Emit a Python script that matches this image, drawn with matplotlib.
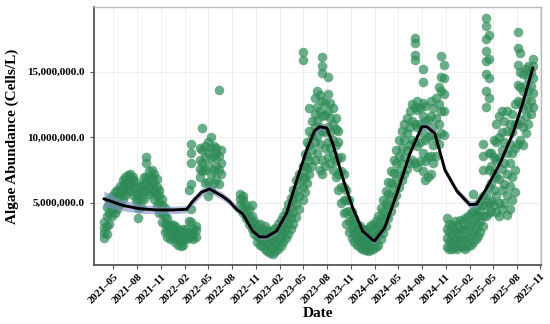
import matplotlib
matplotlib.use("Agg")
import matplotlib.pyplot as plt
import matplotlib.dates as mdates
from matplotlib.ticker import FuncFormatter
import numpy as np
import datetime as dt

# ---------------- data (values in millions of cells per litre) ----------------
obs_dates = [
    "2021-03-25", "2021-04-05", "2021-04-15", "2021-04-25", "2021-05-05", "2021-05-15", "2021-05-25",
    "2021-06-05", "2021-06-15", "2021-06-25", "2021-07-05", "2021-07-15", "2021-07-25",
    "2021-08-05", "2021-08-15", "2021-08-25", "2021-09-05", "2021-09-15", "2021-09-25",
    "2021-10-05", "2021-10-15", "2021-10-25", "2021-11-05", "2021-11-15", "2021-11-25",
    "2021-12-05", "2021-12-15", "2021-12-25", "2022-01-05", "2022-01-15", "2022-01-25",
    "2022-02-05", "2022-02-15", "2022-02-22", "2022-03-05", "2022-03-15",
    "2022-04-01", "2022-04-09", "2022-04-20", "2022-05-01", "2022-05-12", "2022-05-22",
    "2022-06-01", "2022-06-10", "2022-06-18",
    "2022-09-01", "2022-09-12", "2022-09-24", "2022-10-05", "2022-10-15", "2022-10-25",
    "2022-11-05", "2022-11-15", "2022-11-25", "2022-12-05", "2022-12-15", "2022-12-25",
    "2023-01-05", "2023-01-15", "2023-01-25", "2023-02-05", "2023-02-15", "2023-02-25",
    "2023-03-05", "2023-03-15", "2023-03-25", "2023-04-05", "2023-04-15", "2023-05-01",
    "2023-05-08", "2023-05-15", "2023-05-25", "2023-06-05", "2023-06-15", "2023-06-25",
    "2023-07-05", "2023-07-15", "2023-07-25", "2023-08-05", "2023-08-15", "2023-08-25",
    "2023-09-05", "2023-09-15", "2023-09-25", "2023-10-05", "2023-10-15", "2023-10-25",
    "2023-11-05", "2023-11-15", "2023-11-25", "2023-12-05", "2023-12-15", "2023-12-25",
    "2024-01-05", "2024-01-15", "2024-01-25", "2024-02-05", "2024-02-15", "2024-02-25",
    "2024-03-05", "2024-03-15", "2024-03-25", "2024-04-05", "2024-04-15", "2024-04-25",
    "2024-05-05", "2024-05-15", "2024-05-25", "2024-06-05", "2024-06-15", "2024-06-25",
    "2024-07-05", "2024-07-15", "2024-07-25", "2024-08-05", "2024-08-15", "2024-08-25",
    "2024-09-05", "2024-09-15", "2024-09-25", "2024-10-05", "2024-10-15", "2024-10-25",
    "2024-11-05", "2024-11-15", "2024-11-25", "2024-12-05", "2024-12-15", "2024-12-25",
    "2025-01-05", "2025-01-15", "2025-01-25", "2025-02-05", "2025-02-15", "2025-02-25",
    "2025-03-05", "2025-03-15", "2025-03-25", "2025-04-05", "2025-04-15", "2025-04-25",
    "2025-05-05", "2025-05-15", "2025-05-25", "2025-06-05", "2025-06-15", "2025-06-25",
    "2025-07-05", "2025-07-15", "2025-07-25", "2025-08-05", "2025-08-15", "2025-08-25",
    "2025-09-05", "2025-09-15", "2025-09-25", "2025-10-05",
]

obs_values = [
    [2.3, 2.7, 3.1, 3.5], [2.6, 3.2, 4.0, 4.7], [3.4, 4.2, 4.9, 5.3], [4.0, 4.5, 5.1, 5.5],
    [4.2, 4.8, 5.3, 5.8], [4.5, 5.1, 5.6, 6.0], [4.9, 5.5, 5.9, 6.3],
    [5.3, 5.9, 6.3, 6.7], [5.6, 6.2, 6.6, 7.0], [5.9, 6.4, 6.8, 7.1],
    [6.0, 6.5, 6.9, 7.2], [5.6, 6.2, 6.7, 7.0], [5.1, 5.7, 6.2, 6.6],
    [3.8, 4.6, 5.2, 5.7], [4.7, 5.3, 5.9, 6.3], [5.3, 5.9, 6.5, 7.0],
    [5.9, 6.5, 7.0, 8.0, 8.5], [5.7, 6.3, 6.9, 7.4], [5.8, 6.4, 7.0, 7.5],
    [5.3, 6.0, 6.6, 7.2], [4.8, 5.5, 6.2, 6.8], [4.2, 5.0, 5.6, 6.0],
    [3.5, 4.2, 4.8, 5.3], [2.8, 3.4, 4.0, 4.6], [2.4, 2.9, 3.3, 3.8],
    [2.2, 2.7, 3.1, 3.4], [2.3, 2.6, 3.0, 3.3], [2.0, 2.5, 2.9, 3.2],
    [1.8, 2.2, 2.6, 3.0], [1.7, 2.0, 2.4, 2.8], [1.8, 2.2, 2.6, 3.0],
    [2.2, 2.6, 3.0], [2.3, 2.8, 3.6, 6.0], [2.5, 3.5, 4.5, 6.4, 8.0, 8.8, 9.5],
    [2.2, 2.6, 3.0], [2.4, 2.9, 3.2],
    [7.0, 7.6, 8.3, 9.2], [7.4, 8.0, 9.0, 10.7], [6.5, 7.5, 8.5, 9.3],
    [5.5, 6.6, 7.8, 8.8, 9.6], [6.0, 7.2, 8.4, 9.2, 10.0], [6.5, 7.5, 8.5, 9.3],
    [6.8, 7.8, 8.7, 9.2], [6.4, 7.5, 8.6, 13.6], [7.2, 8.0, 9.0],
    [4.8, 5.3, 5.7], [4.2, 4.7, 5.2, 5.5], [3.8, 4.3, 4.8], [3.4, 3.9, 4.5],
    [3.0, 3.5, 4.0, 4.8], [2.6, 3.1, 3.6],
    [2.0, 2.5, 3.0, 3.3], [1.8, 2.3, 2.8, 3.4], [1.7, 2.2, 2.7, 3.0],
    [1.5, 2.0, 2.5, 3.2], [1.3, 1.9, 2.4, 2.9], [1.2, 1.7, 2.3, 2.8],
    [1.1, 1.6, 2.2, 2.9], [1.3, 1.9, 2.5, 3.1], [1.5, 2.1, 2.8, 3.4],
    [1.7, 2.4, 3.0, 3.7], [2.0, 2.7, 3.3, 4.0], [2.3, 3.0, 3.7, 4.4],
    [2.6, 3.4, 4.1, 4.9], [3.0, 3.8, 4.6, 5.4], [3.4, 4.3, 5.2, 6.0],
    [3.9, 4.9, 5.8, 6.7], [4.5, 5.5, 6.4, 7.2], [5.2, 6.2, 7.0, 7.8, 15.9, 16.5],
    [5.8, 6.9, 7.8, 8.7], [6.5, 7.6, 8.6, 9.6], [7.2, 8.3, 9.4, 10.5, 12.2],
    [7.8, 9.0, 10.1, 11.2], [8.3, 9.6, 10.8, 11.8, 13.0], [8.8, 10.1, 11.3, 12.3, 13.5],
    [7.5, 9.5, 10.8, 12.0, 13.2], [7.2, 8.3, 10.5, 11.6, 12.8, 14.9, 15.4, 16.1],
    [7.8, 9.2, 10.4, 11.7, 12.6],
    [8.5, 9.6, 10.8, 12.0, 13.3, 14.6], [8.0, 9.2, 10.4, 11.5, 12.6], [7.5, 8.7, 9.8, 11.0, 12.2],
    [7.0, 8.2, 9.4, 10.6, 11.5], [6.0, 7.2, 8.4, 9.6, 10.5], [5.0, 6.2, 7.4, 8.5],
    [4.2, 5.2, 6.2, 7.2], [3.4, 4.3, 5.2, 6.0], [2.8, 3.6, 4.4, 5.2],
    [2.3, 3.0, 3.7, 4.3], [2.0, 2.6, 3.2, 3.8], [1.8, 2.3, 2.9, 3.4],
    [1.6, 2.1, 2.7, 3.2], [1.5, 2.0, 2.5, 3.0], [1.4, 1.9, 2.4, 2.9],
    [1.3, 1.8, 2.4, 3.0], [1.4, 1.9, 2.5, 3.2], [1.5, 2.1, 2.7, 3.4],
    [1.6, 2.3, 3.0, 3.6], [1.8, 2.6, 3.3, 4.0], [2.2, 3.0, 3.8, 4.6],
    [2.7, 3.5, 4.4, 5.2], [3.2, 4.1, 5.0, 5.9], [3.8, 4.8, 5.7, 6.6],
    [4.4, 5.5, 6.5, 7.4], [5.0, 6.2, 7.3, 8.3], [5.6, 6.8, 8.0, 9.0],
    [6.2, 7.4, 8.6, 9.8], [6.7, 8.0, 9.2, 10.5], [7.2, 8.5, 9.8, 11.0],
    [7.6, 9.0, 10.3, 11.5], [8.0, 9.4, 10.8, 12.0], [8.3, 9.8, 11.2, 12.5],
    [8.0, 9.6, 11.0, 12.3, 15.9, 16.3, 17.2, 17.6], [7.7, 9.3, 10.8, 12.1, 12.8],
    [8.2, 9.6, 11.0, 12.2],
    [7.4, 8.8, 10.3, 11.6, 12.6, 14.2, 15.2], [6.7, 8.2, 9.8, 11.2, 12.4], [7.0, 8.5, 10.0, 11.3],
    [7.2, 8.6, 10.2, 11.6, 12.8], [8.0, 9.4, 10.8, 12.2], [8.6, 10.0, 11.5, 13.0],
    [9.5, 11.0, 12.5, 13.8], [10.3, 12.0, 13.5, 14.6, 16.2], [10.2, 12.0, 13.3, 14.5, 15.5],
    [1.6, 2.3, 3.0, 3.8], [1.5, 2.1, 2.8, 3.4], [1.5, 2.0, 2.6, 3.3],
    [1.6, 2.2, 2.9, 3.6], [1.5, 2.1, 2.7, 3.3], [1.7, 2.3, 3.0, 3.7],
    [1.6, 2.2, 2.9, 3.6], [1.5, 2.2, 3.0, 3.8], [1.7, 2.4, 3.2, 4.0],
    [1.8, 2.6, 3.4, 4.2], [2.0, 2.8, 3.6, 4.4, 5.7], [2.2, 3.0, 3.9, 4.6],
    [2.5, 3.3, 4.1, 4.9], [2.8, 3.6, 4.4, 5.2], [3.2, 4.0, 4.8, 5.5, 7.5, 8.6, 9.5],
    [4.0, 4.8, 5.6, 12.3, 13.5, 14.8, 15.8, 16.6, 17.5, 18.5, 19.1],
    [4.2, 5.0, 6.2, 7.5, 8.8, 13.0, 14.5, 16.0, 17.8], [4.4, 5.1, 6.5, 7.8, 8.8],
    [4.8, 6.0, 7.2, 8.5, 9.8], [4.3, 5.5, 7.0, 8.3, 9.6, 11.0], [4.0, 5.0, 6.8, 8.4, 10.0, 11.6],
    [4.5, 6.0, 7.6, 9.0, 10.4, 12.0], [5.0, 6.4, 8.0, 9.6, 11.2], [4.1, 5.6, 7.2, 8.8, 10.5, 12.0],
    [4.5, 6.3, 8.0, 9.5, 11.0], [5.2, 7.0, 8.8, 10.4, 11.8], [5.8, 7.5, 9.2, 11.0, 12.5],
    [9.5, 11.0, 12.8, 14.0, 15.5, 16.8, 18.0], [9.8, 11.3, 12.6, 13.8, 15.0, 16.4],
    [9.4, 10.8, 12.2, 13.5, 14.8],
    [10.3, 11.6, 12.9, 14.0, 15.2], [11.0, 12.3, 13.5, 14.6, 15.4], [11.8, 12.8, 13.9, 15.0],
    [12.3, 13.4, 14.5, 15.4, 16.0],
]

# smoothed trend (loess) and its confidence half-width
trend_dates = [
    "2021-03-25", "2021-06-05", "2021-08-09", "2021-10-14", "2021-12-15", "2022-02-07",
    "2022-03-02", "2022-04-05", "2022-05-06", "2022-06-25", "2022-07-22", "2022-08-18",
    "2022-09-11", "2022-10-19", "2022-11-15", "2022-12-12", "2023-01-20", "2023-02-27",
    "2023-04-07", "2023-05-15", "2023-06-15", "2023-07-05", "2023-08-01", "2023-08-24",
    "2023-10-01", "2023-11-09", "2023-12-17", "2024-01-25", "2024-02-02", "2024-03-11",
    "2024-04-27", "2024-06-16", "2024-08-01", "2024-08-20", "2024-09-20", "2024-10-29",
    "2024-12-14", "2025-02-02", "2025-03-01", "2025-04-09", "2025-05-29", "2025-07-18",
    "2025-08-25", "2025-10-03",
]
trend_values = [
    5.3, 4.8, 4.55, 4.45, 4.45, 4.5,
    5.1, 5.8, 6.05, 5.5, 5.1, 4.5,
    4.15, 2.85, 2.4, 2.4, 2.85, 4.2,
    6.7, 9.0, 10.5, 10.8, 10.7, 9.5,
    6.9, 4.6, 2.85, 2.15, 2.1, 3.1,
    5.7, 8.75, 10.8, 10.8, 10.3, 7.5,
    5.9, 4.85, 4.9, 6.15, 8.0, 10.3,
    12.6, 15.3,
]
trend_ci = [
    0.6, 0.4, 0.35, 0.3, 0.28, 0.28,
    0.3, 0.3, 0.3, 0.28, 0.28, 0.25,
    0.25, 0.22, 0.22, 0.22, 0.22, 0.22,
    0.22, 0.22, 0.25, 0.25, 0.25, 0.22,
    0.22, 0.2, 0.2, 0.22, 0.22, 0.22,
    0.22, 0.25, 0.28, 0.28, 0.25, 0.25,
    0.25, 0.28, 0.28, 0.28, 0.28, 0.3,
    0.35, 0.45,
]

x_ticks_months = [2, 5, 8, 11]
y_ticks = [5_000_000, 10_000_000, 15_000_000]

# ---------------- plotting ----------------
plt.rcParams['font.family'] = ['Liberation Serif', 'DejaVu Serif']

fig = plt.figure(figsize=(5.5, 3.24), dpi=100)
ax = fig.add_axes([0.1709, 0.1821, 0.8136, 0.7948])

px, py = [], []
for d, vals in zip(obs_dates, obs_values):
    dd = dt.datetime.strptime(d, "%Y-%m-%d")
    for v in vals:
        px.append(dd)
        py.append(v * 1e6)

ax.scatter(px, py, s=48, color='#2E8B57', alpha=0.7, linewidths=0, zorder=2)

td = [dt.datetime.strptime(d, "%Y-%m-%d") for d in trend_dates]
tv = np.array(trend_values) * 1e6
tc = np.array(trend_ci) * 1e6
ax.fill_between(td, tv - tc, tv + tc, color='#7E8FC0', alpha=0.6, linewidth=0, zorder=3)
ax.plot(td, tv, color='black', lw=2.1, zorder=4, solid_capstyle='round', solid_joinstyle='round')

ax.set_xlim(dt.datetime(2021, 2, 15), dt.datetime(2025, 11, 5))
ax.set_ylim(0.25e6, 19.9e6)

ax.xaxis.set_major_locator(mdates.MonthLocator(bymonth=x_ticks_months))
ax.xaxis.set_major_formatter(mdates.DateFormatter('%Y\u2013%m'))
ax.set_yticks(y_ticks)
ax.yaxis.set_major_formatter(FuncFormatter(lambda v, p: f"{v:,.1f}"))

ax.grid(True, color='#EBEBEB', lw=0.6, zorder=0)
ax.set_axisbelow(True)

for side in ['left', 'bottom']:
    ax.spines[side].set_color('#555555')
    ax.spines[side].set_linewidth(1.3)
for side in ['top', 'right']:
    ax.spines[side].set_color('#BBBBBB')
    ax.spines[side].set_linewidth(1.0)

ax.tick_params(axis='both', length=3, width=0.8, color='#555555', labelcolor='black')
ax.tick_params(axis='x', pad=2)
for lab in ax.get_yticklabels():
    lab.set_fontsize(8)
    lab.set_fontweight('bold')
for lab in ax.get_xticklabels():
    lab.set_fontsize(7.8)
    lab.set_fontweight('bold')
    lab.set_rotation(45)
    lab.set_ha('right')
    lab.set_rotation_mode('anchor')

ax.set_xlabel('Date', fontsize=11, fontweight='bold')
ax.xaxis.label.set_va('center')
ax.xaxis.set_label_coords(0.5, -0.19)
ax.set_ylabel('Algae Abundance (Cells/L)', fontsize=11, fontweight='bold')
ax.yaxis.label.set_va('center')
ax.yaxis.set_label_coords(-0.183, 0.5)

fig.savefig('out.png', dpi=100)
